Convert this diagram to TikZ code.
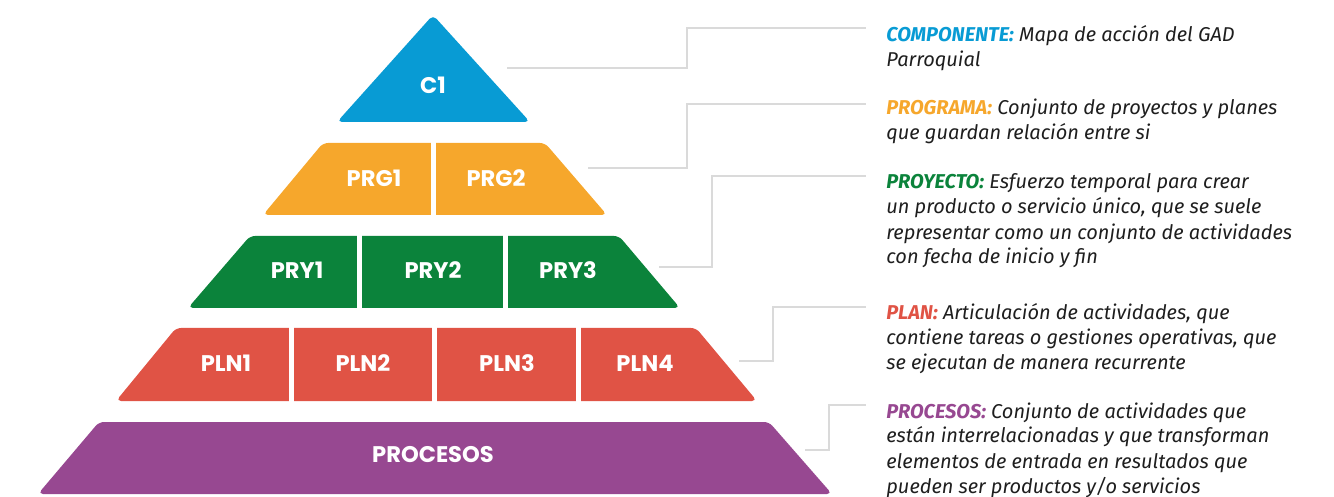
\documentclass[tikz,border=0pt]{standalone}
\usepackage{fontspec}
\setmainfont{Fira Sans}
\newfontfamily\pyrfont{Poppins}
\usepackage{xcolor}
\usepackage{tikz}
\usetikzlibrary{calc}
\definecolor{Sky}{HTML}{089BD4}
\definecolor{Amber}{HTML}{F6A72C}
\definecolor{Pine}{HTML}{0B833B}
\definecolor{Coral}{HTML}{E05345}
\definecolor{Plum}{HTML}{974891}
\definecolor{Rule}{HTML}{DADADA}
\definecolor{Ink}{HTML}{1E1E1E}

\begin{document}
\begin{tikzpicture}[
  x=0.5pt,y=-0.5pt,
  tier/.style={rounded corners=2.5pt},
  cut/.style={draw=white,line width=2.5pt},
  cell/.style={text=white,inner sep=0pt,font=\pyrfont\bfseries\fontsize{11.3}{13}\selectfont},
  link/.style={draw=Rule,line width=1.3pt},
  desc/.style={anchor=base west,align=left,inner sep=0pt,text=Ink,font=\itshape\fontsize{10}{12.5}\selectfont}
]
\useasboundingbox (0,0) rectangle (1334,497);
\fill[Sky,tier] (337,122) -- (433,15) -- (530,122) -- cycle;
\fill[Amber,tier] (263,215) -- (323,143) -- (545,143) -- (607,215) -- cycle;
\fill[Pine,tier] (188,308) -- (250,236) -- (619,236) -- (680,308) -- cycle;
\fill[Coral,tier] (116,401) -- (176,328) -- (696,328) -- (757,401) -- cycle;
\fill[Plum,tier] (38,494) -- (99,422) -- (769,422) -- (832,494) -- cycle;
\draw[cut] (433,140) -- (433,218);
\draw[cut] (359,233) -- (359,311);
\draw[cut] (505,233) -- (505,311);
\draw[cut] (291,325) -- (291,404);
\draw[cut] (434,325) -- (434,404);
\draw[cut] (578,325) -- (578,404);
\node[cell] (c1) at (433,85) {C1};
\node[cell] (prg1) at (374,178) {PRG1};
\node[cell] (prg2) at (496,178) {PRG2};
\node[cell] (pry1) at (297,270) {PRY1};
\node[cell] (pry2) at (433,270) {PRY2};
\node[cell] (pry3) at (568,270) {PRY3};
\node[cell] (pln1) at (226,363) {PLN1};
\node[cell] (pln2) at (363,363) {PLN2};
\node[cell] (pln3) at (507,363) {PLN3};
\node[cell] (pln4) at (645,363) {PLN4};
\node[cell] (proc) at (433,455) {PROCESOS};
\node[desc] (dcomp) at (886,67) {\textcolor{Sky}{\bfseries COMPONENTE:} Mapa de acción del GAD\\Parroquial};
\node[desc] (dprog) at (886,140) {\textcolor{Amber}{\bfseries PROGRAMA:} Conjunto de proyectos y planes\\que guardan relación entre si};
\node[desc] (dproy) at (886,264) {\textcolor{Pine}{\bfseries PROYECTO:} Esfuerzo temporal para crear\\un producto o servicio único, que se suele\\representar como un conjunto de actividades\\con fecha de inicio y fin};
\node[desc] (dplan) at (886,370) {\textcolor{Coral}{\bfseries PLAN:} Articulación de actividades, que\\contiene tareas o gestiones operativas, que\\se ejecutan de manera recurrente};
\node[desc] (dproc) at (886,493) {\textcolor{Plum}{\bfseries PROCESOS:} Conjunto de actividades que\\están interrelacionadas y que transforman\\elementos de entrada en resultados que\\pueden ser productos y/o servicios};
\coordinate (l1a) at (507,68);
\coordinate (l1b) at (687,28);
\coordinate (l1c) at (866,28);
\coordinate (l2a) at (588,168);
\coordinate (l2b) at (687,104);
\coordinate (l2c) at (866,104);
\coordinate (l3a) at (659,267);
\coordinate (l3b) at (712,176);
\coordinate (l3c) at (866,176);
\coordinate (l4a) at (739,361);
\coordinate (l4b) at (773,307);
\coordinate (l4c) at (866,307);
\coordinate (l5a) at (805,450);
\coordinate (l5b) at (829,405);
\coordinate (l5c) at (866,405);
\draw[link] (l1a) -| (l1b) -- (l1c);
\draw[link] (l2a) -| (l2b) -- (l2c);
\draw[link] (l3a) -| (l3b) -- (l3c);
\draw[link] (l4a) -| (l4b) -- (l4c);
\draw[link] (l5a) -| (l5b) -- (l5c);
\end{tikzpicture}
\end{document}
